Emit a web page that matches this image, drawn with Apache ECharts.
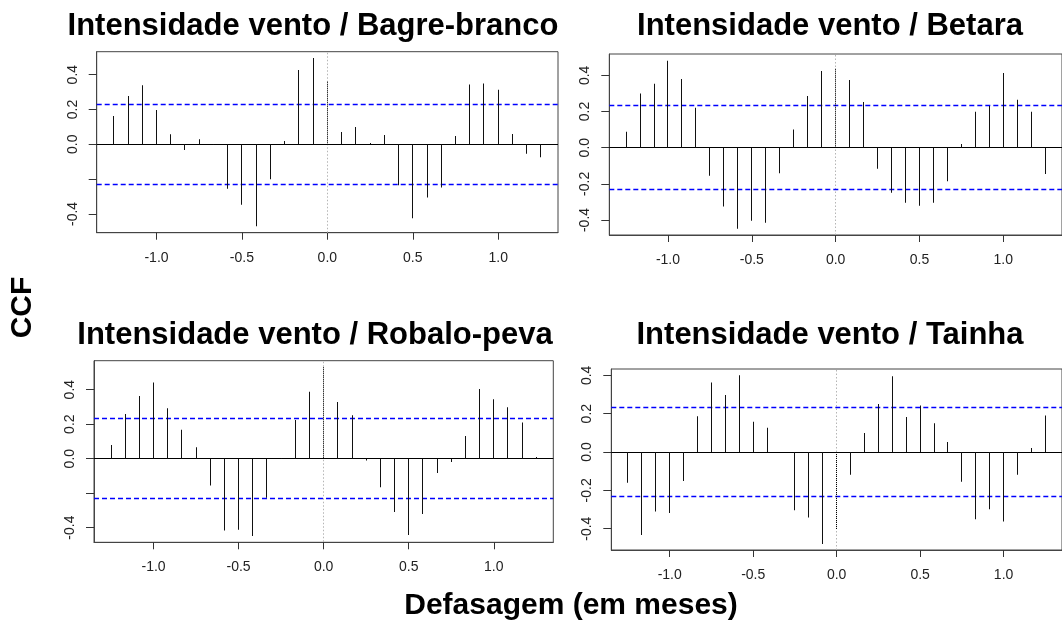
<!DOCTYPE html>
<html><head><meta charset="utf-8">
<script src="https://cdn.jsdelivr.net/npm/echarts@6/dist/echarts.min.js"></script>
<style>html,body{margin:0;padding:0;background:#fff}#c{width:1062px;height:623px}</style>
</head><body><div id="c"></div>
<script>
// Lags in months (converted to years by /12 for the axis)
const lagMonths = [-15,-14,-13,-12,-11,-10,-9,-8,-7,-6,-5,-4,-3,-2,-1,0,1,2,3,4,5,6,7,8,9,10,11,12,13,14,15];

const panelTitles = [
  'Intensidade vento / Bagre-branco',
  'Intensidade vento / Betara',
  'Intensidade vento / Robalo-peva',
  'Intensidade vento / Tainha'
];

const ccfBagre = [0.163,0.278,0.339,0.197,0.057,-0.033,0.029,-0.003,-0.256,-0.348,-0.471,-0.201,0.019,0.427,0.496,0.360,0.071,0.100,0.008,0.054,-0.235,-0.425,-0.306,-0.249,0.048,0.344,0.350,0.314,0.059,-0.054,-0.075];
const ccfBetara = [0.088,0.300,0.354,0.481,0.380,0.221,-0.155,-0.326,-0.448,-0.404,-0.415,-0.142,0.100,0.286,0.424,0.437,0.374,0.253,-0.116,-0.249,-0.304,-0.321,-0.304,-0.186,0.020,0.199,0.230,0.413,0.265,0.199,-0.146];
const ccfRobalo = [0.079,0.259,0.363,0.441,0.292,0.168,0.066,-0.155,-0.417,-0.412,-0.448,-0.226,0.002,0.224,0.388,0.530,0.329,0.251,-0.010,-0.166,-0.309,-0.443,-0.321,-0.083,-0.019,0.131,0.404,0.344,0.298,0.209,0.010];
const ccfTainha = [-0.160,-0.433,-0.310,-0.318,-0.151,0.186,0.362,0.297,0.400,0.158,0.127,0.000,-0.304,-0.341,-0.480,-0.402,-0.118,0.099,0.250,0.395,0.183,0.242,0.150,0.052,-0.155,-0.350,-0.299,-0.363,-0.118,0.021,0.191];

const ciLimit = 0.231;
const xTicks = [-1.0, -0.5, 0.0, 0.5, 1.0];
const yTicks = [-0.4, -0.2, 0.0, 0.2, 0.4];
const xAxisTitle = 'Defasagem (em meses)';
const yAxisTitle = 'CCF';

const XMIN = -1.35, XMAX = 1.35;
const panels = [
  {data: ccfBagre,  left: 96.7,  top: 51.7,  width: 461.3, height: 181,   ymin: -0.508, ymax: 0.532, hideY: true,  tx: 313, ty: 26},
  {data: ccfBetara, left: 609.3, top: 54,    width: 461,   height: 181,   ymin: -0.483, ymax: 0.518, hideY: false, tx: 830, ty: 26},
  {data: ccfRobalo, left: 94,    top: 360.7, width: 459.3, height: 181.6, ymin: -0.485, ymax: 0.568, hideY: true,  tx: 315, ty: 335},
  {data: ccfTainha, left: 611.3, top: 369,   width: 459,   height: 181,   ymin: -0.511, ymax: 0.433, hideY: false, tx: 830, ty: 335}
];

const chart = echarts.init(document.getElementById('c'), null, {renderer: 'canvas'});
const FONT = '"Liberation Sans", Arial, sans-serif';

const grids = [], xAxes = [], yAxes = [], series = [], graphics = [];
const R = (x, y, w, h, fill) => ({type: 'rect', shape: {x: x, y: y, width: w, height: h}, style: {fill: fill}});

panels.forEach((p, i) => {
  grids.push({left: p.left, top: p.top, width: p.width, height: p.height, show: true,
    borderColor: '#444', borderWidth: 1, backgroundColor: 'transparent', containLabel: false});
  xAxes.push({type: 'value', gridIndex: i, min: XMIN, max: XMAX,
    axisLine: {show: true, onZero: false, lineStyle: {color: '#444'}},
    axisTick: {show: true, length: 7, lineStyle: {color: '#333'}, customValues: xTicks},
    axisLabel: {show: true, customValues: xTicks, fontSize: 14, fontFamily: FONT, color: '#222', margin: 18,
      formatter: v => v.toFixed(1)},
    splitLine: {show: false}});
  yAxes.push({type: 'value', gridIndex: i, min: p.ymin, max: p.ymax,
    axisLine: {show: true, onZero: false, lineStyle: {color: '#444'}},
    axisTick: {show: true, length: 8, lineStyle: {color: '#333'}, customValues: yTicks},
    axisLabel: {show: true, customValues: yTicks, rotate: 90, fontSize: 14, fontFamily: FONT, color: '#222', margin: 17,
      formatter: v => (p.hideY && Math.abs(v + 0.2) < 1e-9) ? '' : v.toFixed(1)},
    splitLine: {show: false}});

  // reference lines: [kind, value]  (kind 0 = lag-0 vertical dotted, 1 = zero line, 2 = CI dashed)
  const refs = [[0, 0], [1, 0], [2, ciLimit], [2, -ciLimit]];
  series.push({
    type: 'custom', xAxisIndex: i, yAxisIndex: i, data: refs, silent: true, z: 3,
    renderItem: (params, api) => {
      const kind = api.value(0), v = api.value(1);
      const children = [];
      if (kind === 0) {
        const a = api.coord([v, p.ymax]), b = api.coord([v, p.ymin]);
        const px = Math.floor(a[0]);
        for (let y = a[1] + 1; y < b[1]; y += 3.5) children.push(R(px, y, 1, 1.5, '#b5b5b5'));
      } else {
        const a = api.coord([XMIN, v]), b = api.coord([XMAX, v]);
        const py = Math.floor(a[1]);
        if (kind === 1) children.push(R(a[0], py, b[0] - a[0], 1, '#000'));
        else for (let x = a[0]; x < b[0]; x += 8) children.push(R(x, py - 0.25, Math.min(5, b[0] - x), 1.5, '#0000ff'));
      }
      return {type: 'group', children: children};
    }
  });

  const pts = lagMonths.map((m, k) => [m / 12, p.data[k]]);
  series.push({
    type: 'custom', xAxisIndex: i, yAxisIndex: i, data: pts, silent: true, z: 5,
    renderItem: (params, api) => {
      const x = api.value(0), y = api.value(1);
      const a = api.coord([x, 0]), b = api.coord([x, y]);
      const px = Math.floor(a[0]);
      const y0 = Math.min(a[1], b[1]), y1 = Math.max(a[1], b[1]);
      if (Math.abs(x) < 1e-9) {
        const children = [];
        for (let yy = y0; yy < y1; yy += 2) children.push(R(px, yy, 1, Math.min(1, y1 - yy), '#000'));
        return {type: 'group', children: children};
      }
      return R(px, y0, 1, y1 - y0, '#111');
    }
  });
  graphics.push({type: 'text', x: p.tx, y: p.ty, style: {text: panelTitles[i], font: 'bold 31px ' + FONT,
    fill: '#000', textAlign: 'center', textVerticalAlign: 'middle'}});
});

graphics.push({type: 'text', x: 571, y: 606, style: {text: xAxisTitle, font: 'bold 30px ' + FONT,
  fill: '#000', textAlign: 'center', textVerticalAlign: 'middle'}});
graphics.push({type: 'text', x: 23, y: 307.5, rotation: Math.PI / 2, style: {text: yAxisTitle, font: 'bold 30px ' + FONT,
  fill: '#000', textAlign: 'center', textVerticalAlign: 'middle'}});

chart.setOption({
  animation: false,
  backgroundColor: '#fff',
  grid: grids, xAxis: xAxes, yAxis: yAxes, series: series, graphic: graphics
});
</script></body></html>
